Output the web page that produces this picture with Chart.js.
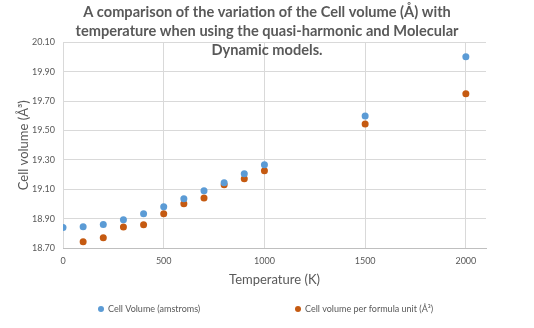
<!DOCTYPE html>
<html>
<head>
<meta charset="utf-8">
<script src="https://cdn.jsdelivr.net/npm/chart.js@4/dist/chart.umd.min.js"></script>
<style>
  html, body { margin: 0; padding: 0; background: #ffffff; }
  #wrap { width: 534px; height: 328px; position: relative; }
</style>
</head>
<body>
<div id="wrap"><canvas id="c" width="534" height="328"></canvas></div>
<script>
// ---- data ----
const titleLines = [
  "A comparison of the variation of the Cell volume (Å) with",
  "temperature when using the quasi-harmonic and Molecular",
  "Dynamic models."
];
const xAxisTitle = "Temperature (K)";
const yAxisTitle = "Cell volume (Å³)";
const seriesNames = ["Cell Volume (amstroms)", "Cell volume per formula unit (Å³)"];
const tempsA = [0, 100, 200, 300, 400, 500, 600, 700, 800, 900, 1000, 1500, 2000];
const cellVolume = [18.84, 18.845, 18.86, 18.893, 18.934, 18.981, 19.036, 19.09, 19.145, 19.206, 19.267, 19.60, 20.003];
const tempsB = [100, 200, 300, 400, 500, 600, 700, 800, 900, 1000, 1500, 2000];
const volumePerFormula = [18.743, 18.77, 18.843, 18.859, 18.934, 19.002, 19.041, 19.131, 19.172, 19.227, 19.545, 19.751];
const xTicks = [0, 500, 1000, 1500, 2000];
const yTicks = [18.70, 18.90, 19.10, 19.30, 19.50, 19.70, 19.90, 20.10];
const colors = ["#5B9BD5", "#C55A11"];

const toPoints = (xs, ys) => xs.map((x, i) => ({ x: x, y: ys[i] }));

// custom legend drawn from the datasets
const bottomLegend = {
  id: "bottomLegend",
  afterDraw(chart) {
    const ctx = chart.ctx;
    const positions = [101, 298];
    const y = 309;
    ctx.save();
    ctx.font = "9px Lato";
    ctx.textBaseline = "middle";
    ctx.textAlign = "left";
    chart.data.datasets.forEach((ds, i) => {
      ctx.fillStyle = ds.backgroundColor;
      ctx.beginPath();
      ctx.arc(positions[i], y, 3, 0, Math.PI * 2);
      ctx.fill();
      ctx.fillStyle = "#595959";
      ctx.fillText(ds.label, positions[i] + 7, y);
    });
    ctx.restore();
  }
};

new Chart(document.getElementById("c"), {
  type: "scatter",
  data: {
    datasets: [
      { label: seriesNames[0], data: toPoints(tempsA, cellVolume), backgroundColor: colors[0], borderColor: colors[0], pointRadius: 3.5, pointBorderWidth: 0 },
      { label: seriesNames[1], data: toPoints(tempsB, volumePerFormula), backgroundColor: colors[1], borderColor: colors[1], pointRadius: 3.5, pointBorderWidth: 0 }
    ]
  },
  options: {
    responsive: false,
    animation: false,
    layout: { padding: { left: 0, right: 0, top: 0, bottom: 35 } },
    plugins: {
      legend: { display: false },
      tooltip: { enabled: false },
      title: {
        display: true,
        text: titleLines,
        color: "#595959",
        font: { family: "Lato", size: 14.6, weight: "bold", lineHeight: 19 / 14.6 },
        padding: { top: 3.2, bottom: -17.7 }
      }
    },
    scales: {
      x: {
        type: "linear",
        min: 0,
        max: 2100,
        afterBuildTicks: (s) => { s.ticks = xTicks.map(v => ({ value: v })); },
        afterFit: (s) => { s.height = 45; },
        border: { display: true, color: "#bfbfbf", width: 1 },
        grid: { color: "#d9d9d9", drawTicks: false },
        ticks: { color: "#595959", font: { family: "Lato", size: 9 }, padding: 8, maxRotation: 0, callback: (v) => String(v) },
        title: { display: true, text: xAxisTitle, color: "#595959", font: { family: "Lato", size: 13 }, padding: { top: 4, bottom: 5 } }
      },
      y: {
        min: 18.7,
        max: 20.1,
        afterBuildTicks: (s) => { s.ticks = yTicks.map(v => ({ value: v })); },
        afterFit: (s) => { s.width = 63; },
        border: { display: false },
        grid: { color: "#d9d9d9", drawTicks: false },
        ticks: { color: "#595959", font: { family: "Lato", size: 9 }, padding: 8, callback: (v) => Number(v).toFixed(2) },
        title: { display: true, text: yAxisTitle, color: "#595959", font: { family: "Lato", size: 13 }, padding: { top: 16, bottom: 4 } }
      },
      rightSpace: {
        position: "right",
        min: 0,
        max: 1,
        afterFit: (s) => { s.width = 48; },
        border: { display: false },
        grid: { display: false, drawTicks: false },
        ticks: { display: false }
      }
    }
  },
  plugins: [bottomLegend]
});
</script>
</body>
</html>
